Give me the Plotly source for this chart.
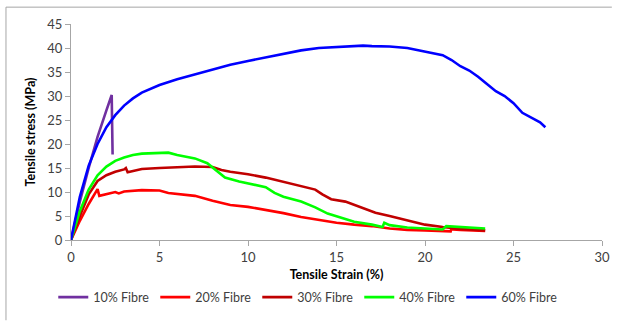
import plotly.graph_objects as go

series_names = ["10% Fibre", "20% Fibre", "30% Fibre", "40% Fibre", "60% Fibre"]
series_colors = ["#7030A0", "#FF0000", "#C00000", "#00FF00", "#0000FF"]

strain_10 = [0, 0.5, 1.0, 1.5, 2.0, 2.3, 2.32, 2.35]
stress_10 = [0, 8, 15, 21.5, 27, 30.2, 25, 17.8]

strain_20 = [0, 0.5, 1.0, 1.4, 1.5, 1.6, 2.0, 2.5, 2.7, 3.0, 4.0, 5.0, 5.5, 6.0, 7.0, 8.0, 9.0, 10.0,
             11.0, 12.0, 13.0, 14.0, 15.0, 16.0, 17.0, 18.0, 19.0, 20.0, 21.0, 21.45, 21.5, 21.6, 22.0, 23.0, 23.4]
stress_20 = [0, 4, 7.5, 9.8, 10.6, 9.2, 9.5, 10.0, 9.7, 10.1, 10.4, 10.3, 9.8, 9.6, 9.2, 8.2, 7.3, 6.9,
             6.3, 5.6, 4.8, 4.2, 3.6, 3.2, 2.9, 2.4, 2.1, 2.0, 1.9, 1.8, 2.5, 2.2, 2.1, 2.0, 1.9]

strain_30 = [0, 0.5, 1.0, 1.5, 2.0, 2.5, 3.0, 3.1, 3.2, 3.5, 4.0, 5.0, 6.0, 7.0, 8.0, 8.5, 9.0, 10.0,
             11.0, 12.0, 13.0, 13.8, 14.2, 14.7, 15.5, 16.0, 16.8, 17.2, 18.0, 19.0, 20.0, 21.0, 22.0, 23.0, 23.4]
stress_30 = [0, 5, 9.5, 12.3, 13.5, 14.2, 14.7, 15.0, 14.1, 14.4, 14.8, 15.0, 15.1, 15.3, 15.2, 14.6, 14.2, 13.7,
             13.0, 12.1, 11.2, 10.5, 9.5, 8.5, 8.0, 7.3, 6.3, 5.7, 5.0, 4.1, 3.2, 2.7, 2.3, 2.1, 2.0]

strain_40 = [0, 0.5, 1.0, 1.5, 2.0, 2.5, 3.0, 3.5, 4.0, 5.0, 5.5, 6.0, 7.0, 7.7, 8.2, 8.7, 9.5, 10.0,
             10.5, 11.0, 11.5, 12.0, 13.0, 13.8, 14.5, 15.5, 16.0, 17.0, 17.6, 17.7, 18.0, 19.0, 20.0, 21.0,
             21.2, 22.0, 23.0, 23.4]
stress_40 = [0, 6, 10.5, 13.5, 15.3, 16.5, 17.2, 17.7, 18.0, 18.2, 18.2, 17.7, 17.0, 16.0, 14.5, 13.0, 12.2, 11.8,
             11.3, 11.0, 9.8, 9.0, 8.0, 6.8, 5.5, 4.3, 3.8, 3.2, 2.7, 3.6, 3.1, 2.6, 2.4, 2.2,
             2.9, 2.7, 2.5, 2.4]

strain_60 = [0, 0.5, 1.0, 1.5, 2.0, 2.5, 3.0, 3.5, 4.0, 5.0, 6.0, 7.0, 8.0, 9.0, 10.0, 11.0, 12.0, 13.0,
             14.0, 15.0, 16.0, 16.5, 17.0, 18.0, 19.0, 20.0, 21.0, 21.5, 22.0, 22.5, 23.0, 23.5, 24.0, 24.5,
             25.0, 25.5, 26.0, 26.5, 26.8]
stress_60 = [0, 9, 15.5, 20, 23.5, 26, 28, 29.5, 30.7, 32.3, 33.5, 34.5, 35.5, 36.5, 37.3, 38.0, 38.8, 39.5,
             40.0, 40.2, 40.4, 40.5, 40.4, 40.3, 40.0, 39.3, 38.5, 37.5, 36.2, 35.3, 34.0, 32.5, 31.0, 30.0,
             28.5, 26.5, 25.5, 24.5, 23.5]

x_data = [strain_10, strain_20, strain_30, strain_40, strain_60]
y_data = [stress_10, stress_20, stress_30, stress_40, stress_60]

x_ticks = [0, 5, 10, 15, 20, 25, 30]
y_ticks = [0, 5, 10, 15, 20, 25, 30, 35, 40, 45]

FONT = "Lato, 'Liberation Sans', sans-serif"

fig = go.Figure()
for name, color, xs, ys in zip(series_names, series_colors, x_data, y_data):
    fig.add_trace(go.Scatter(x=xs, y=ys, mode="lines", name=name,
                             line=dict(color=color, width=2.6)))

axis_common = dict(showgrid=False, zeroline=False, showline=True, linecolor="#A6A6A6", linewidth=1,
                   ticks="outside", ticklen=5, tickcolor="#A6A6A6",
                   tickfont=dict(family=FONT, size=13, color="#404040"))

PW, PH = 539, 218  # plot area size in px

fig.update_layout(
    width=620, height=323,
    margin=dict(l=71, r=10, t=24, b=81),
    paper_bgcolor="white", plot_bgcolor="white",
    font=dict(family=FONT, color="#000000"),
    xaxis=dict(range=[0, 30], tickvals=x_ticks, **axis_common,
               title=dict(text="<b>Tensile Strain (%)</b>", font=dict(family=FONT, size=12.5), standoff=6)),
    yaxis=dict(range=[0, 45], tickvals=y_ticks, **axis_common,
               title=dict(text="<b>Tensile stress (MPa)</b>", font=dict(family=FONT, size=12.5), standoff=8)),
    legend=dict(orientation="h", x=(53 - 71) / PW, y=-(300 - 242) / PH, xanchor="left", yanchor="middle",
                entrywidth=57, entrywidthmode="pixels",
                font=dict(family=FONT, size=12.5, color="#404040")),
    shapes=[
        dict(type="line", xref="paper", yref="paper",
             x0=(5 - 71) / PW, x1=(620 - 71) / PW, y0=(242 - 7) / PH, y1=(242 - 7) / PH,
             line=dict(color="#A6A6A6", width=1)),
        dict(type="line", xref="paper", yref="paper",
             x0=(5 - 71) / PW, x1=(5 - 71) / PW, y0=(242 - 323) / PH, y1=(242 - 7) / PH,
             line=dict(color="#A6A6A6", width=1)),
    ],
)

fig.write_html("out.html", config={"displayModeBar": False})
